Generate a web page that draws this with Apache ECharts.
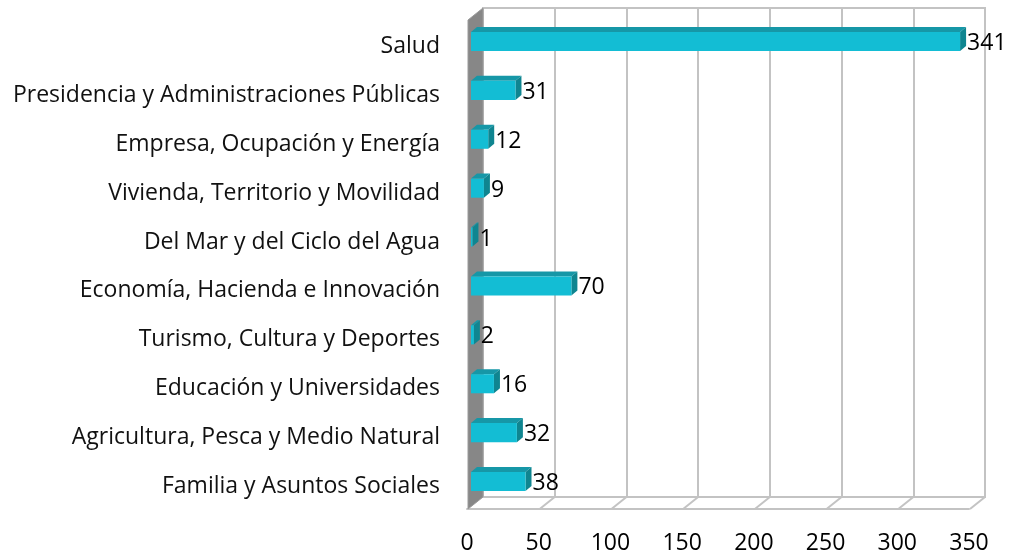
<!DOCTYPE html>
<html>
<head>
<meta charset="utf-8">
<script src="https://cdn.jsdelivr.net/npm/echarts@6/dist/echarts.min.js"></script>
<style>
html,body{margin:0;padding:0;background:#fff;}
#chart{width:1016px;height:557px;}
</style>
</head>
<body>
<div id="chart"></div>
<script>
const categories = ['Salud','Presidencia y Administraciones Públicas','Empresa, Ocupación y Energía','Vivienda, Territorio y Movilidad','Del Mar y del Ciclo del Agua','Economía, Hacienda e Innovación','Turismo, Cultura y Deportes','Educación y Universidades','Agricultura, Pesca y Medio Natural','Familia y Asuntos Sociales'];
const values = [341, 31, 12, 9, 1, 70, 2, 16, 32, 38];
const xTicks = [0, 50, 100, 150, 200, 250, 300, 350];

const FONT = '"Open Sans", "Noto Sans", sans-serif';
const FS = 23;
const GRID_COLOR = '#C3C3C3';
const DX = 15, DY = 12;   // depth offset of the floor/wall (px)
const BX = 6, BY = 5;     // depth of bars (px)

const chart = echarts.init(document.getElementById('chart'));

const option = {
  animation: false,
  backgroundColor: '#fff',
  grid: [
    {left: 483, top: 8, width: 502, height: 489, show: true, borderColor: GRID_COLOR, borderWidth: 2, backgroundColor: 'transparent'},
    {left: 471, top: 17, width: 502, height: 489},
    {left: 467, top: 20, width: 502, height: 489},
    {left: 471, top: 22, width: 502, height: 489}
  ],
  xAxis: [
    {gridIndex: 0, type: 'value', min: 0, max: 350, interval: 50,
     axisLabel: {show: false}, axisLine: {show: false}, axisTick: {show: false},
     splitLine: {show: true, lineStyle: {color: GRID_COLOR, width: 2}}},
    {gridIndex: 1, type: 'value', min: 0, max: 350, interval: 50,
     axisLabel: {show: false}, axisLine: {show: false}, axisTick: {show: false}, splitLine: {show: false}},
    {gridIndex: 2, type: 'value', min: 0, max: 350, interval: 50,
     axisLabel: {show: true, fontSize: FS, color: '#000', fontFamily: FONT, margin: 23,
       formatter: v => xTicks.includes(v) ? String(v) : ''},
     axisLine: {show: true, lineStyle: {color: GRID_COLOR, width: 2}},
     axisTick: {show: false}, splitLine: {show: false}},
    {gridIndex: 3, type: 'value', min: 0, max: 350, show: false}
  ],
  yAxis: [
    {gridIndex: 0, type: 'value', min: 0, max: 1, show: false},
    {gridIndex: 1, type: 'category', inverse: true, data: categories,
     axisLine: {show: false}, axisTick: {show: false}, splitLine: {show: false},
     axisLabel: {show: false}},
    {gridIndex: 2, type: 'value', min: 0, max: 1, show: false},
    {gridIndex: 3, type: 'category', inverse: true, data: categories,
     axisLine: {show: false}, axisTick: {show: false}, splitLine: {show: false},
     axisLabel: {fontSize: FS, color: '#111', fontFamily: FONT, margin: 31}}
  ],
  series: [
    {
      type: 'custom', xAxisIndex: 0, yAxisIndex: 0, z: 1, silent: true,
      data: xTicks.map(v => [v]),
      encode: {x: 0},
      renderItem: function (params, api) {
        const v = api.value(0);
        const b = api.coord([v, 0]);
        const children = [];
        if (v === 0) {
          const t = api.coord([0, 1]);
          children.push({type: 'polygon', shape: {points: [
            [t[0], t[1]], [b[0], b[1]], [b[0] - DX, b[1] + DY], [t[0] - DX, t[1] + DY]
          ]}, style: {fill: '#878787', stroke: '#9a9a9a', lineWidth: 1}});
        } else {
          children.push({type: 'line', shape: {x1: b[0], y1: b[1], x2: b[0] - DX, y2: b[1] + DY},
            style: {stroke: GRID_COLOR, lineWidth: 2}});
        }
        return {type: 'group', children: children};
      }
    },
    {
      type: 'custom', xAxisIndex: 1, yAxisIndex: 1, z: 5, silent: true,
      data: values.map((v, i) => [v, i]),
      encode: {x: 0, y: 1},
      renderItem: function (params, api) {
        const v = api.value(0), c = api.value(1);
        const p0 = api.coord([0, c]);
        const p1 = api.coord([v, c]);
        const band = api.size([0, 1])[1];
        const h = band * 0.39;
        const yT = p0[1] - h / 2, yB = p0[1] + h / 2;
        const x0 = p0[0], x1 = p1[0];
        return {type: 'group', children: [
          {type: 'polygon', shape: {points: [[x0, yT], [x1, yT], [x1 + BX, yT - BY], [x0 + BX, yT - BY]]},
           style: {fill: '#1697A7'}},
          {type: 'polygon', shape: {points: [[x1, yT], [x1 + BX, yT - BY], [x1 + BX, yB - BY], [x1, yB]]},
           style: {fill: '#0F8590'}},
          {type: 'rect', shape: {x: x0, y: yT, width: x1 - x0, height: h},
           style: {fill: '#13BDD4'}},
          {type: 'text', style: {text: String(v), x: x1 + BX + 1, y: p0[1] + 2,
            verticalAlign: 'middle', align: 'left', fontSize: FS, fontFamily: FONT, fill: '#000'}}
        ]};
      }
    }
  ]
};
chart.setOption(option);
</script>
</body>
</html>
